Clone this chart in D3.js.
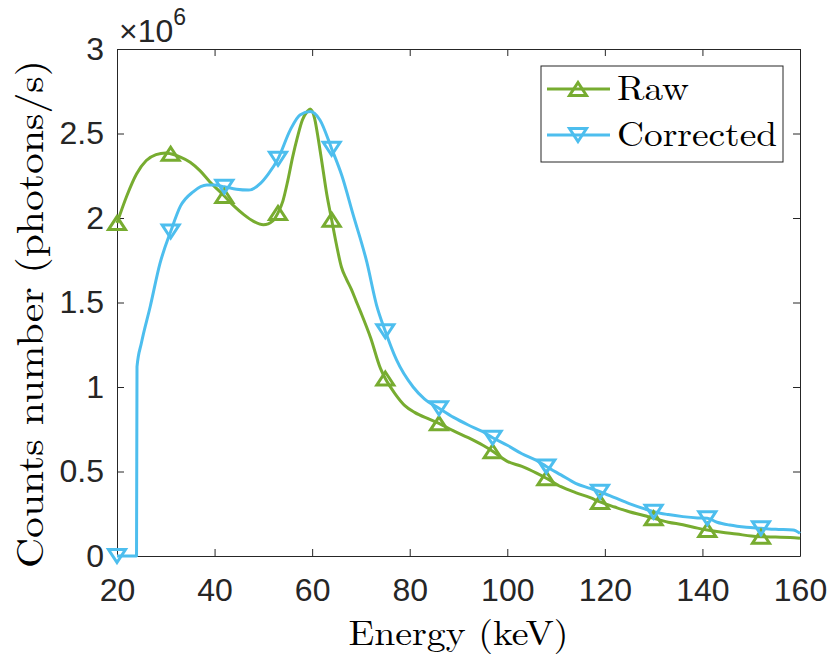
<!DOCTYPE html>
<html><head><meta charset="utf-8">
<script src="https://cdn.jsdelivr.net/npm/d3@7"></script>
<style>html,body{margin:0;padding:0;background:#fff}</style>
</head><body><svg id="chart" width="830" height="656"></svg>
<script>
// ---- data (counts in units of 10^6 photons/s) ----
const rawEnergy = [20,22,24,26,28,30,31,33,35,37,39,42,44,46,48,50,52,53,54,55,56,57,58,59,59.6,60.5,61.3,62,63,64,65,66,67,68,69,70,72,74,75,77,79,81,84,86,89,92,95,97,100,103,106,108,111,114,117,119,122,125,128,130,133,136,139,141,144,147,150,152,155,158,160];
const rawCounts = [1.97,2.13,2.26,2.34,2.375,2.385,2.38,2.36,2.33,2.28,2.215,2.13,2.07,2.02,1.98,1.96,1.985,2.03,2.10,2.22,2.36,2.48,2.58,2.63,2.645,2.59,2.46,2.33,2.14,1.99,1.84,1.71,1.64,1.58,1.51,1.44,1.29,1.11,1.05,0.96,0.89,0.85,0.81,0.785,0.74,0.70,0.655,0.62,0.56,0.53,0.49,0.46,0.41,0.375,0.345,0.32,0.29,0.262,0.24,0.223,0.20,0.185,0.165,0.154,0.14,0.13,0.118,0.114,0.112,0.11,0.105];
const corrEnergy = [20,24,24.1,25,26.8,28.8,31,33,35.6,38.4,40,42,44.5,47,49.4,51,53,55.5,57.5,59.6,61.6,64,66.1,68.4,71.2,73.2,75,77.3,80.7,83,86,89,92,95,97,100,103,106,108,111,114,117,119,122,125,128,130,133,136,139,141,143,145.6,149,152,155,158.6,160];
const corrCounts = [0,0,1.12,1.26,1.475,1.73,1.92,2.07,2.155,2.195,2.195,2.185,2.17,2.165,2.205,2.26,2.35,2.52,2.61,2.63,2.58,2.41,2.25,2.02,1.74,1.485,1.33,1.16,1.00,0.93,0.874,0.82,0.775,0.735,0.70,0.655,0.605,0.565,0.53,0.48,0.43,0.40,0.38,0.345,0.31,0.28,0.262,0.245,0.233,0.225,0.223,0.20,0.183,0.17,0.164,0.158,0.154,0.134];
const markerEnergies = [20,31,42,53,64,75,86,97,108,119,130,141,152];
const xTicks = [20,40,60,80,100,120,140,160];
const yTicks = [0,0.5,1,1.5,2,2.5,3];
const yTickLabels = ["0","0.5","1","1.5","2","2.5","3"];
const seriesNames = ["Raw","Corrected"];
const seriesColors = ["#77AC30","#4DBEEE"];
const xLabel = "Energy (keV)";
const yLabel = "Counts number (photons/s)";

// ---- layout ----
const L = 117, R = 800, T = 49, B = 556;
const svg = d3.select("#chart");
const x = d3.scaleLinear().domain([20,160]).range([L,R]);
const y = d3.scaleLinear().domain([0,3]).range([B,T]);
const axisColor = "#262626";
const tickFont = "'Liberation Sans', Arial, Helvetica, sans-serif";
const serif = "'Latin Modern Roman','CMU Serif','Liberation Serif','Times New Roman',serif";

function styleAxis(g, showText){
  g.selectAll("path.domain").attr("stroke", axisColor).attr("stroke-width",1);
  g.selectAll(".tick line").attr("stroke", axisColor).attr("stroke-width",1);
  g.selectAll(".tick text").attr("fill", axisColor).style("font-family", tickFont).style("font-size","32px");
  if(!showText) g.selectAll(".tick text").remove();
}
svg.append("g").attr("transform",`translate(0,${B})`)
  .call(d3.axisBottom(x).tickValues(xTicks).tickFormat(d3.format("d")).tickSizeInner(-7).tickSizeOuter(0).tickPadding(22))
  .call(g=>styleAxis(g,true));
svg.append("g").attr("transform",`translate(0,${T})`)
  .call(d3.axisTop(x).tickValues(xTicks).tickSizeInner(-7).tickSizeOuter(0))
  .call(g=>styleAxis(g,false));
svg.append("g").attr("transform",`translate(${L},0)`)
  .call(d3.axisLeft(y).tickValues(yTicks).tickFormat((d,i)=>yTickLabels[i]).tickSizeInner(-7).tickSizeOuter(0).tickPadding(13))
  .call(g=>styleAxis(g,true));
svg.append("g").attr("transform",`translate(${R},0)`)
  .call(d3.axisRight(y).tickValues(yTicks).tickSizeInner(-7).tickSizeOuter(0))
  .call(g=>styleAxis(g,false));

// exponent
const ex = svg.append("text").attr("x",119).attr("y",42).attr("fill",axisColor)
  .style("font-family",tickFont).style("font-size","32px");
ex.append("tspan").text("\u00d710");
ex.append("tspan").attr("dy",-17).style("font-size","23px").text("6");

// axis labels
svg.append("text").attr("x",(L+R)/2).attr("y",645).attr("text-anchor","middle")
  .style("font-family",serif).style("font-size","35px").attr("fill","#000")
  .attr("textLength",220).attr("lengthAdjust","spacingAndGlyphs").text(xLabel);
svg.append("text").attr("transform",`translate(43,314) rotate(-90)`).attr("text-anchor","middle")
  .style("font-family",serif).style("font-size","38px").attr("fill","#000")
  .attr("textLength",508).attr("lengthAdjust","spacingAndGlyphs").text(yLabel);

// series
const series = [
  {name:seriesNames[0], color:seriesColors[0], up:true, pts:rawEnergy.map((e,i)=>({e, v:rawCounts[i]}))},
  {name:seriesNames[1], color:seriesColors[1], up:false, pts:corrEnergy.map((e,i)=>({e, v:corrCounts[i]}))}
];
const line = d3.line().x(d=>x(d.e)).y(d=>y(d.v)).curve(d3.curveMonotoneX);
const triUp = "M0,-6.5L8.5,6.5L-8.5,6.5Z", triDown = "M0,6.5L8.5,-6.5L-8.5,-6.5Z";
const plot = svg.append("g");
series.forEach(s=>{
  plot.append("path").datum(s.pts).attr("d",line).attr("fill","none")
    .attr("stroke",s.color).attr("stroke-width",3).attr("stroke-linejoin","round");
});
series.forEach(s=>{
  const mk = s.pts.filter(p=>markerEnergies.includes(p.e));
  plot.selectAll(null).data(mk).enter().append("path")
    .attr("transform",d=>`translate(${x(d.e)},${y(d.v)})`)
    .attr("d", s.up?triUp:triDown).attr("fill","none")
    .attr("stroke",s.color).attr("stroke-width",3).attr("stroke-linejoin","miter");
});

// legend
const lg = svg.append("g");
lg.append("rect").attr("x",541).attr("y",66).attr("width",242).attr("height",96)
  .attr("fill","#fff").attr("stroke",axisColor).attr("stroke-width",1);
const legendY = [89,135], textW = [72,160];
series.forEach((s,i)=>{
  lg.append("line").attr("x1",547).attr("x2",610).attr("y1",legendY[i]).attr("y2",legendY[i])
    .attr("stroke",s.color).attr("stroke-width",3);
  lg.append("path").attr("transform",`translate(578,${legendY[i]})`).attr("d",s.up?triUp:triDown)
    .attr("fill","none").attr("stroke",s.color).attr("stroke-width",3);
  lg.append("text").attr("x",617).attr("y",legendY[i]+11).style("font-family",serif).style("font-size","35px")
    .attr("fill","#000").attr("textLength",textW[i]).attr("lengthAdjust","spacingAndGlyphs").text(s.name);
});
</script></body></html>
